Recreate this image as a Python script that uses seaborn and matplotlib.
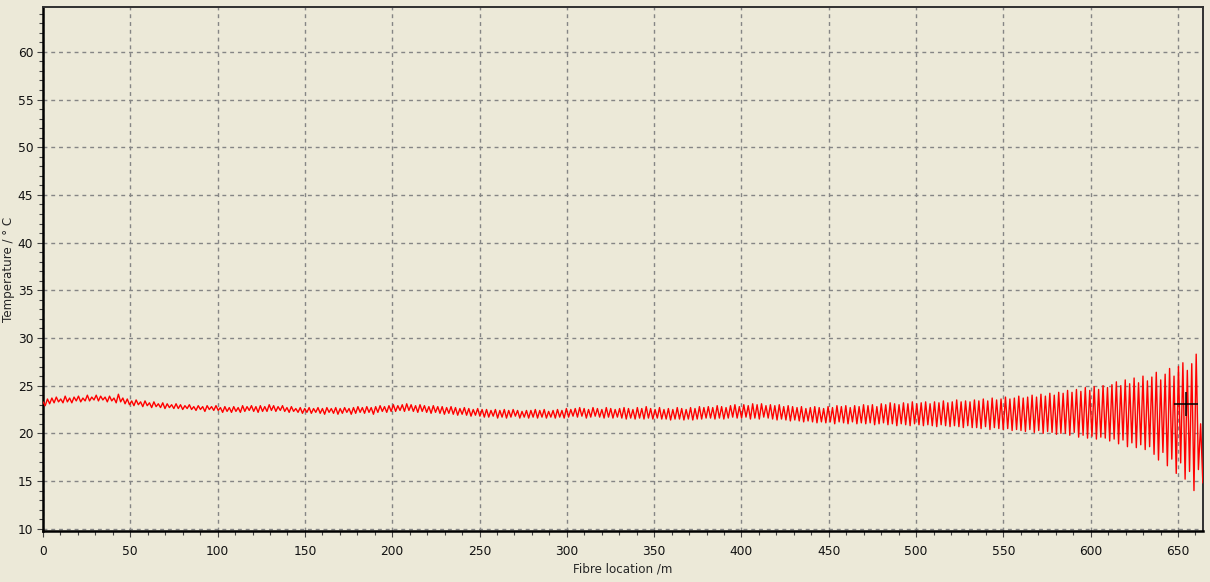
import numpy as np
import pandas as pd
import seaborn as sns
import matplotlib.pyplot as plt
import matplotlib.ticker as ticker

# sample spacing along the fibre (m)
sample_step_m = 1.27

# temperature trace, one value per sample
temp_c = [
    23.3, 22.9, 23.6, 23.1, 23.7, 23.2, 23.8, 23.3, 23.6, 23.2, 23.9, 23.3, 23.7, 23.2, 23.8, 23.4, 23.9, 23.3, 23.7, 23.4,
    24.0, 23.4, 23.8, 23.5, 24.0, 23.4, 23.9, 23.5, 23.8, 23.3, 23.9, 23.4, 23.7, 23.2, 24.1, 23.3, 23.7, 23.1, 23.6, 23.0,
    23.4, 22.9, 23.5, 23.0, 23.3, 22.8, 23.4, 22.9, 23.2, 22.7, 23.3, 22.8, 23.1, 22.7, 23.2, 22.6, 23.1, 22.7, 23.0, 22.6,
    23.1, 22.6, 23.0, 22.5, 22.9, 22.6, 23.0, 22.5, 22.8, 22.4, 22.9, 22.5, 22.8, 22.3, 22.9, 22.5, 22.8, 22.4, 22.9, 22.4,
    22.7, 22.2, 22.8, 22.3, 22.7, 22.2, 22.8, 22.3, 22.7, 22.2, 22.9, 22.3, 22.8, 22.4, 22.9, 22.3, 22.8, 22.2, 22.9, 22.3,
    22.8, 22.3, 23.0, 22.4, 22.9, 22.3, 22.8, 22.4, 22.9, 22.3, 22.7, 22.2, 22.8, 22.3, 22.6, 22.2, 22.7, 22.1, 22.6, 22.2,
    22.7, 22.1, 22.6, 22.2, 22.7, 22.1, 22.6, 22.0, 22.7, 22.2, 22.6, 22.1, 22.7, 22.0, 22.6, 22.1, 22.7, 22.2, 22.6, 22.0,
    22.7, 22.1, 22.8, 22.2, 22.7, 22.1, 22.8, 22.2, 22.7, 22.0, 22.8, 22.2, 22.9, 22.3, 22.8, 22.2, 22.9, 22.3, 23.0, 22.3,
    22.9, 22.4, 23.0, 22.3, 23.1, 22.4, 23.0, 22.3, 22.9, 22.2, 23.0, 22.3, 22.9, 22.2, 22.8, 22.1, 22.9, 22.2, 22.8, 22.1,
    22.8, 22.0, 22.7, 22.1, 22.8, 22.0, 22.7, 21.9, 22.6, 22.0, 22.7, 21.9, 22.6, 21.8, 22.5, 21.9, 22.6, 21.8, 22.5, 21.7,
    22.5, 21.7, 22.4, 21.8, 22.5, 21.6, 22.4, 21.7, 22.5, 21.6, 22.4, 21.7, 22.5, 21.8, 22.4, 21.6, 22.3, 21.7, 22.4, 21.6,
    22.4, 21.7, 22.5, 21.6, 22.4, 21.7, 22.5, 21.6, 22.3, 21.7, 22.4, 21.6, 22.5, 21.7, 22.4, 21.6, 22.6, 21.7, 22.5, 21.8,
    22.6, 21.7, 22.7, 21.8, 22.6, 21.6, 22.5, 21.7, 22.7, 21.8, 22.6, 21.7, 22.5, 21.6, 22.7, 21.7, 22.6, 21.6, 22.5, 21.7,
    22.6, 21.6, 22.7, 21.5, 22.6, 21.6, 22.5, 21.5, 22.7, 21.6, 22.6, 21.5, 22.8, 21.6, 22.6, 21.5, 22.5, 21.6, 22.7, 21.5,
    22.5, 21.5, 22.6, 21.4, 22.5, 21.5, 22.7, 21.5, 22.6, 21.4, 22.5, 21.5, 22.7, 21.4, 22.6, 21.5, 22.8, 21.5, 22.7, 21.6,
    22.8, 21.6, 22.7, 21.5, 22.9, 21.6, 22.8, 21.5, 22.7, 21.6, 22.9, 21.7, 23.0, 21.6, 22.8, 21.6, 23.0, 21.7, 22.9, 21.5,
    23.1, 21.6, 23.0, 21.5, 23.1, 21.7, 22.9, 21.6, 23.0, 21.5, 22.9, 21.4, 23.0, 21.5, 22.8, 21.4, 22.9, 21.3, 22.8, 21.4,
    22.7, 21.3, 22.8, 21.2, 22.6, 21.3, 22.7, 21.2, 22.8, 21.1, 22.7, 21.2, 22.6, 21.1, 22.8, 21.2, 22.7, 21.0, 22.9, 21.2,
    22.8, 21.1, 22.9, 21.0, 22.7, 21.2, 22.9, 21.0, 22.8, 21.1, 23.0, 21.0, 22.9, 21.1, 23.0, 20.9, 22.8, 21.0, 23.1, 21.1,
    23.0, 20.9, 23.2, 21.0, 23.1, 20.8, 23.0, 21.0, 23.2, 20.9, 23.1, 20.8, 23.3, 21.0, 23.1, 20.9, 23.2, 20.8, 23.3, 20.9,
    23.1, 20.8, 23.3, 20.7, 23.2, 20.9, 23.4, 20.8, 23.2, 20.7, 23.3, 20.8, 23.5, 20.7, 23.3, 20.6, 23.4, 20.8, 23.3, 20.6,
    23.5, 20.6, 23.4, 20.5, 23.6, 20.7, 23.4, 20.4, 23.7, 20.6, 23.5, 20.5, 23.6, 20.4, 23.8, 20.5, 23.6, 20.3, 23.7, 20.4,
    23.9, 20.3, 23.7, 20.2, 23.8, 20.4, 24.0, 20.1, 23.8, 20.3, 24.1, 20.0, 23.9, 20.2, 24.2, 20.1, 24.0, 19.9, 24.3, 20.0,
    24.2, 20.0, 24.5, 19.8, 24.3, 20.1, 24.6, 19.6, 24.4, 19.8, 24.8, 19.5, 24.5, 19.7, 24.9, 19.4, 24.6, 19.6, 25.0, 19.5,
    24.8, 19.2, 25.1, 19.4, 25.4, 18.9, 25.0, 19.3, 25.6, 18.6, 25.2, 19.0, 25.8, 18.5, 25.3, 18.8, 26.0, 18.3, 25.5, 18.6,
    25.9, 17.8, 26.4, 17.2, 25.6, 18.0, 26.2, 16.6, 26.8, 17.3, 26.0, 15.8, 27.0, 16.9, 27.4, 15.2, 26.6, 16.0, 27.3, 14.0,
    28.3, 16.2, 21.0, 14.8,
]

# cursor cross shown on the trace
cursor_m = 654.6
cursor_temp = 23.1

x_ticks = list(range(0, 651, 50))
y_ticks = list(range(10, 61, 5))

fibre_m = np.arange(len(temp_c)) * sample_step_m
df = pd.DataFrame({"fibre_m": fibre_m, "temp_c": temp_c})

bg = "#ECE9D8"
sns.set_style("ticks")
plt.rcParams["font.family"] = ["DejaVu Sans"]

fig = plt.figure(figsize=(12.1, 5.82), dpi=100, facecolor=bg)
ax = fig.add_axes([43 / 1210, 1 - 531 / 582, 1160 / 1210, 524 / 582])
ax.set_facecolor(bg)

sns.lineplot(data=df, x="fibre_m", y="temp_c", color="#FF0000", linewidth=1.0, ax=ax, zorder=3)
ax.plot([cursor_m], [cursor_temp], marker="+", markersize=17, markeredgewidth=1.1, color="black", zorder=4)

ax.set_xlim(0, 664.3)
ax.set_ylim(9.76, 64.7)
ax.set_xticks(x_ticks)
ax.set_yticks(y_ticks)
ax.xaxis.set_minor_locator(ticker.MultipleLocator(10))
ax.yaxis.set_minor_locator(ticker.MultipleLocator(1))

ax.grid(True, which="major", color="#858585", linestyle=(0, (2.8, 2.8)), linewidth=1.0, zorder=1)
ax.set_axisbelow(True)

ax.tick_params(which="both", direction="out", color="#404040", labelsize=8.8, labelcolor="#111111", width=0.8)
ax.tick_params(which="major", length=4)
ax.tick_params(axis="x", which="major", pad=6)
ax.tick_params(axis="y", which="major", pad=3)
ax.tick_params(which="minor", length=3)

for side in ["left", "bottom"]:
    ax.spines[side].set_linewidth(1.8)
    ax.spines[side].set_color("black")
for side in ["top", "right"]:
    ax.spines[side].set_visible(True)
    ax.spines[side].set_linewidth(1.4)
    ax.spines[side].set_color("#303030")

ax.set_xlabel("Fibre location /m", fontsize=8.6, labelpad=3)
ax.set_ylabel("Temperature / ° C", fontsize=8.6)
# label sits close to the left edge of the window
ax.yaxis.set_label_coords(-0.0245, 0.5)

plt.savefig("out.png", dpi=100, facecolor=bg)
plt.close()
